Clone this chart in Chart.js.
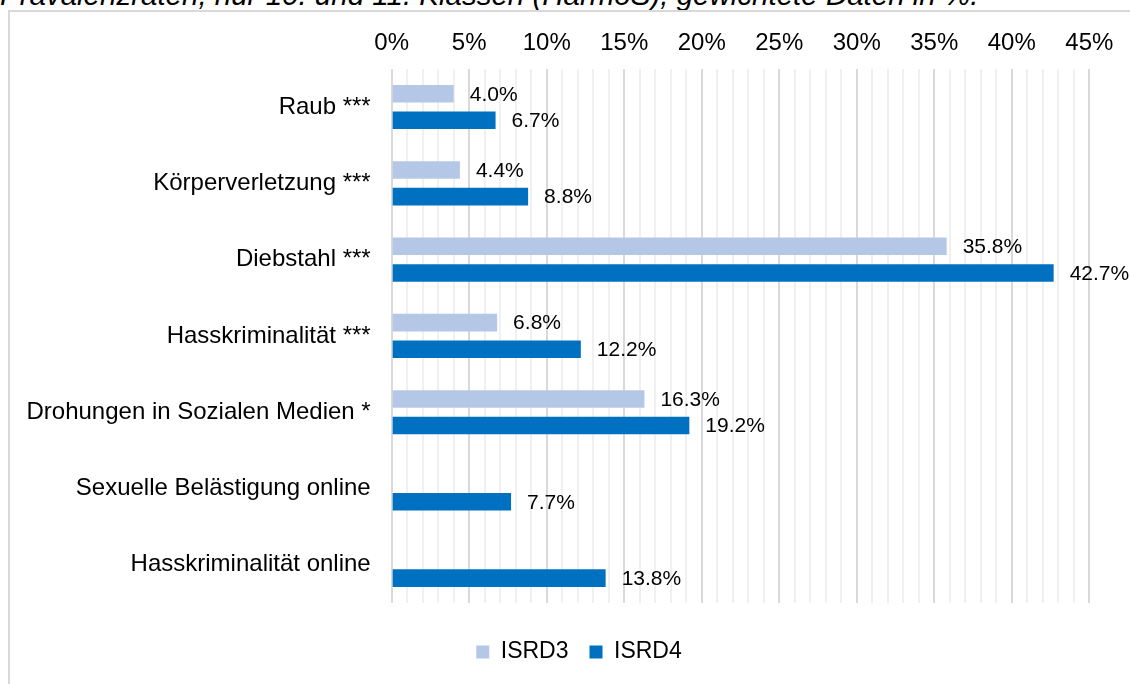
<!DOCTYPE html>
<html>
<head>
<meta charset="utf-8">
<script src="https://cdn.jsdelivr.net/npm/chart.js@4.4.1/dist/chart.umd.min.js"></script>
<style>
  html, body { margin: 0; padding: 0; background: #fff; overflow: hidden; width: 1130px; height: 684px; }
  #title { position: absolute; left: 0; top: -20.5px; white-space: nowrap; font-family: 'Liberation Sans', Arial, sans-serif; font-style: italic; font-size: 29.5px; line-height: 29px; color: #000; }
  #frame { position: absolute; left: 8px; top: 10px; width: 1300px; height: 800px; border: 2px solid #d9d9d9; box-sizing: border-box; }
  #wrap { position: absolute; left: 0; top: 0; width: 1158px; height: 684px; }
</style>
</head>
<body>
<div id="title">Prävalenzraten, nur 10. und 11. Klassen (HarmoS), gewichtete Daten in %.</div>
<div id="frame"></div>
<div id="wrap"><canvas id="c"></canvas></div>
<script>
const categories = [
  'Raub ***',
  'Körperverletzung ***',
  'Diebstahl ***',
  'Hasskriminalität ***',
  'Drohungen in Sozialen Medien *',
  'Sexuelle Belästigung online',
  'Hasskriminalität online'
];
const seriesNames = ['ISRD3', 'ISRD4'];
const isrd3 = [4.0, 4.4, 35.8, 6.8, 16.3, null, null];
const isrd4 = [6.7, 8.8, 42.7, 12.2, 19.2, 7.7, 13.8];
const axisMin = 0, axisMax = 45, minorStep = 1, majorStep = 5;

const FONT = "'Liberation Sans', Arial, sans-serif";

const valueLabels = {
  id: 'valueLabels',
  afterDatasetsDraw(chart) {
    const ctx = chart.ctx;
    ctx.save();
    ctx.font = '21px ' + FONT;
    ctx.fillStyle = '#000';
    ctx.textAlign = 'left';
    ctx.textBaseline = 'middle';
    chart.data.datasets.forEach((ds, i) => {
      const meta = chart.getDatasetMeta(i);
      meta.data.forEach((el, j) => {
        const v = ds.data[j];
        if (v === null || v === undefined) return;
        ctx.fillText(v.toFixed(1) + '%', el.x + 16, el.y + 1);
      });
    });
    ctx.restore();
  }
};

new Chart(document.getElementById('c'), {
  type: 'bar',
  data: {
    labels: categories,
    datasets: [
      { label: seriesNames[0], data: isrd3, backgroundColor: '#b4c7e7', borderWidth: 0, barPercentage: 0.66, categoryPercentage: 0.697 },
      { label: seriesNames[1], data: isrd4, backgroundColor: '#0070c0', borderWidth: 0, barPercentage: 0.66, categoryPercentage: 0.697 }
    ]
  },
  options: {
    indexAxis: 'y',
    responsive: true,
    maintainAspectRatio: false,
    animation: false,
    layout: { padding: { left: 0, right: 0, top: 0, bottom: 10.5 } },
    scales: {
      x: {
        position: 'top',
        min: axisMin,
        max: axisMax,
        afterFit(s) { s.height = 68.85; },
        border: { display: false },
        grid: {
          drawTicks: false,
          lineWidth: 2,
          color: (c) => (c.tick && c.tick.value % majorStep === 0) ? '#d9d9d9' : '#f0f0f0'
        },
        ticks: {
          stepSize: minorStep,
          autoSkip: false,
          maxRotation: 0,
          padding: 11,
          color: '#000',
          font: { family: FONT, size: 24 },
          callback: (v) => (v % majorStep === 0) ? v + '%' : ''
        }
      },
      y: {
        afterFit(s) { s.width = 391.7; },
        border: { display: false },
        grid: { display: false, drawTicks: false },
        ticks: {
          padding: 21,
          color: '#000',
          font: { family: FONT, size: 24 }
        }
      },
      yRight: {
        axis: 'y',
        type: 'category',
        position: 'right',
        afterFit(s) { s.width = 68.7; },
        border: { display: false },
        grid: { display: false, drawTicks: false },
        ticks: { display: false }
      }
    },
    plugins: {
      legend: {
        position: 'bottom',
        title: { display: true, text: '', font: { size: 10, lineHeight: 1 }, padding: { top: 6.5, bottom: 0 } },
        labels: {
          boxWidth: 13,
          boxHeight: 13,
          padding: 21,
          color: '#000',
          font: { family: FONT, size: 23 }
        }
      },
      tooltip: { enabled: false }
    }
  },
  plugins: [valueLabels]
});
</script>
</body>
</html>
